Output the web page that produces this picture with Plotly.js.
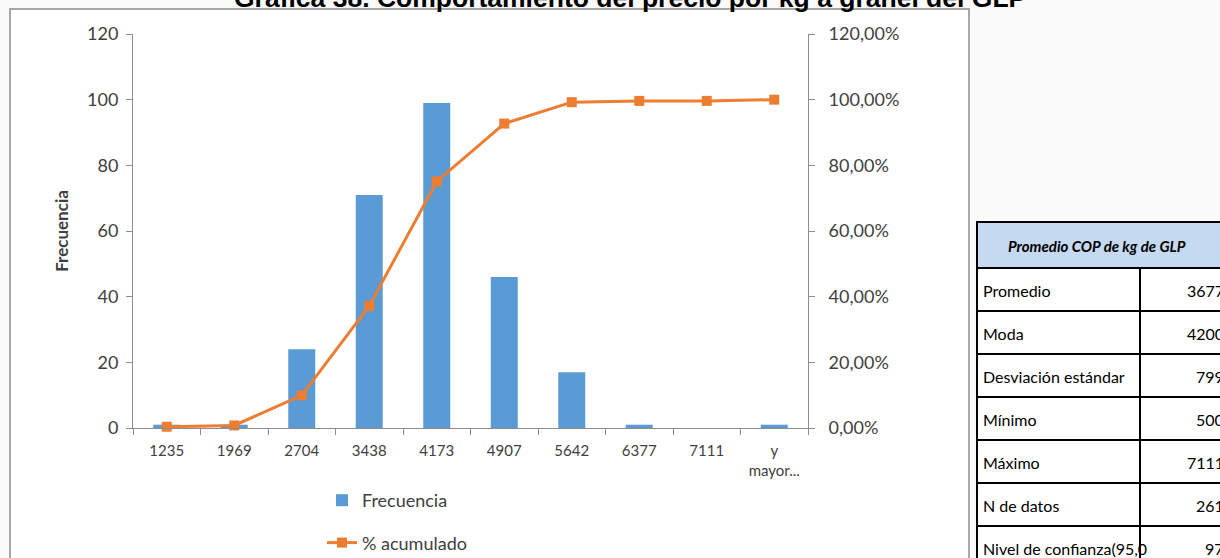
<!DOCTYPE html>
<html><head><meta charset="utf-8">
<script src="https://cdn.plot.ly/plotly-3.0.1.min.js"></script>
<style>html,body{margin:0;padding:0;overflow:hidden;background:#fafafa}</style>
</head><body><div id="chart" style="width:1220px;height:558px"></div>
<script>
const categories = ['1235','1969','2704','3438','4173','4907','5642','6377','7111','y mayor...'];
const tickLabels = ['1235','1969','2704','3438','4173','4907','5642','6377','7111','y<br>mayor...'];
const frecuencia = [1,1,24,71,99,46,17,1,0,1];
const acumulado = [0.0038,0.0077,0.0996,0.3716,0.7510,0.9272,0.9923,0.9962,0.9962,1.0];
const statLabels = ['Promedio','Moda','Desviación estándar','Mínimo','Máximo','N de datos','Nivel de confianza(95,0'];
const statValues = ['3677','4200','799','500','7111','261','97'];
const tableTitle = 'Promedio COP de kg de GLP';
const chartTitle = 'Gráfica 38. Comportamiento del precio por kg a granel del GLP';

const W=1220,H=558;
const L=133,R=808,T=34,B=428;
const px = x => x/W;
const py = y => 1 - y/H;
const FONT = 'Lato, "Open Sans", sans-serif';

const traces = [
  {type:'bar', x:categories, y:frecuencia, name:'Frecuencia', marker:{color:'#5b9bd5'},
   width:0.4, legendgroup:'a', yaxis:'y'},
  {type:'scatter', mode:'lines+markers', x:categories, y:acumulado, name:'% acumulado',
   line:{color:'#ed7d31', width:3}, marker:{symbol:'square', size:10, color:'#ed7d31'},
   legendgroup:'b', yaxis:'y2', cliponaxis:false}
];

const shapes = [];
shapes.push({type:'rect', xref:'paper', yref:'paper', x0:px(10), x1:px(969), y0:py(9), y1:py(575),
  fillcolor:'#ffffff', line:{color:'#8c8c8c', width:1.5}, layer:'below'});
shapes.push({type:'rect', xref:'paper', yref:'paper', x0:px(977), x1:px(1240), y0:py(222), y1:py(268),
  fillcolor:'#c5d9f1', line:{color:'#000', width:2}});
const annotations = [];
annotations.push({xref:'paper', yref:'paper', x:px(630), y:py(-2), xanchor:'center', yanchor:'middle',
  text:'<b>'+chartTitle+'</b>', showarrow:false, font:{family:'Liberation Sans, Arial, sans-serif', size:26.5, color:'#000'}});
annotations.push({xref:'paper', yref:'paper', x:px(1097), y:py(246), xanchor:'center', yanchor:'middle',
  text:'<b><i>'+tableTitle+'</i></b>', showarrow:false, font:{family:FONT, size:15, color:'#000'}});
for (let i=0;i<statLabels.length;i++){
  const y0=268+43*i, y1=y0+43;
  shapes.push({type:'rect', xref:'paper', yref:'paper', x0:px(977), x1:px(1240), y0:py(y0), y1:py(y1),
    fillcolor:'#fff', line:{color:'#000', width:2}});
  shapes.push({type:'line', xref:'paper', yref:'paper', x0:px(1140), x1:px(1140), y0:py(y0), y1:py(y1),
    line:{color:'#000', width:2}});
  annotations.push({xref:'paper', yref:'paper', x:px(981), y:py((y0+y1)/2+1), xanchor:'left', yanchor:'middle',
    text:statLabels[i], showarrow:false, font:{family:FONT, size:16, color:'#000'}});
  annotations.push({xref:'paper', yref:'paper', x:px(1226), y:py((y0+y1)/2+1), xanchor:'right', yanchor:'middle',
    text:statValues[i], showarrow:false, font:{family:FONT, size:16, color:'#000'}});
}

const layout = {
  width:W, height:H,
  margin:{l:0, r:0, t:0, b:0, autoexpand:false},
  paper_bgcolor:'#fafafa', plot_bgcolor:'rgba(0,0,0,0)',
  separators:',.',
  font:{family:FONT, color:'#404040'},
  showlegend:true,
  legend:{x:px(322), y:py(482), xanchor:'left', yanchor:'top', orientation:'v',
    tracegroupgap:16, font:{family:FONT, size:18, color:'#404040'}, bgcolor:'rgba(0,0,0,0)'},
  xaxis:{domain:[L/W, R/W], type:'category', range:[-0.5,9.5], tickvals:categories, ticktext:tickLabels,
    showgrid:false, zeroline:false, showline:true, linecolor:'#8c8c8c', linewidth:1,
    ticks:'outside', tickson:'boundaries', ticklen:6, tickcolor:'#8c8c8c', ticklabelstandoff:9,
    tickfont:{family:FONT, size:15, color:'#404040'}},
  yaxis:{domain:[1-B/H, 1-T/H], range:[0,120], tickvals:[0,20,40,60,80,100,120], showgrid:false, zeroline:false,
    showline:true, linecolor:'#8c8c8c', linewidth:1, ticks:'outside', ticklen:6, tickcolor:'#8c8c8c',
    tickfont:{family:FONT, size:18, color:'#404040'}, ticklabelstandoff:4,
    title:{text:'<b>Frecuencia</b>', font:{family:FONT, size:17, color:'#404040'}, standoff:14}},
  yaxis2:{range:[0,1.2], overlaying:'y', side:'right', tickvals:[0,0.2,0.4,0.6,0.8,1.0,1.2],
    tickformat:'.2%', showgrid:false, zeroline:false, showline:true, linecolor:'#8c8c8c', linewidth:1,
    ticks:'outside', ticklen:6, tickcolor:'#8c8c8c', ticklabelstandoff:10,
    tickfont:{family:FONT, size:18, color:'#404040'}},
  shapes:shapes, annotations:annotations
};
Plotly.newPlot('chart', traces, layout, {displayModeBar:false, staticPlot:true});
</script></body></html>
